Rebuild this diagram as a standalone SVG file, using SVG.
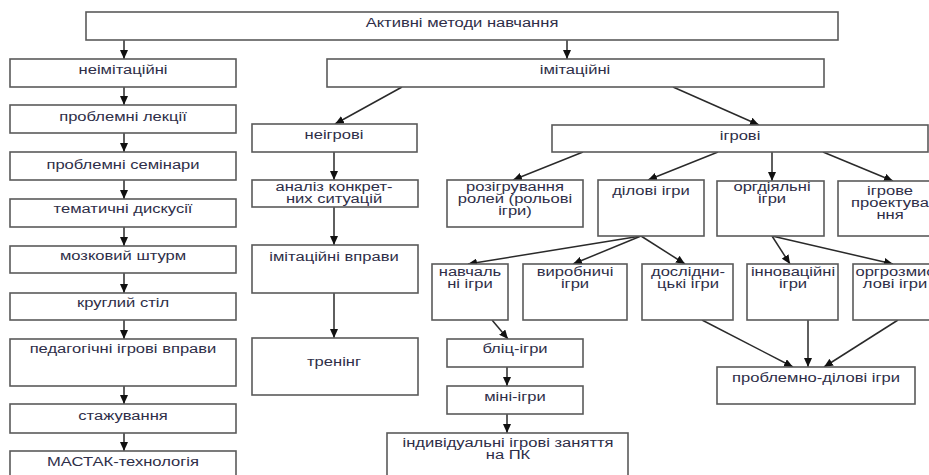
<svg xmlns="http://www.w3.org/2000/svg" width="929" height="475" viewBox="0 0 929 475">
<style>
.box{fill:#fff;stroke:#5a5a5a;stroke-width:1.6}
.t{font-family:"Liberation Sans",Arial,sans-serif;font-size:12px;fill:#2e2e48;text-anchor:middle}
.c line{stroke:#2a2a2a;stroke-width:1.5;marker-end:url(#ah)}
</style>
<defs>
<marker id="ah" markerUnits="userSpaceOnUse" markerWidth="9" markerHeight="8" refX="9" refY="4" orient="auto">
<path d="M0,0 L9,4 L0,8 z" fill="#111"/>
</marker>
</defs>
<rect width="929" height="475" fill="#fff"/>
<g class="c" id="connectors">
<line x1="124" y1="40" x2="124" y2="59"/>
<line x1="124" y1="87" x2="124" y2="105"/>
<line x1="124" y1="133" x2="124" y2="152"/>
<line x1="124" y1="180" x2="124" y2="199"/>
<line x1="124" y1="227" x2="124" y2="246"/>
<line x1="124" y1="273" x2="124" y2="293"/>
<line x1="124" y1="320" x2="124" y2="339"/>
<line x1="124" y1="386" x2="124" y2="404"/>
<line x1="124" y1="433" x2="124" y2="451"/>
<line x1="567" y1="40" x2="567" y2="59"/>
<line x1="402" y1="87" x2="335" y2="124"/>
<line x1="673" y1="87" x2="759" y2="125"/>
<line x1="334" y1="152" x2="334" y2="180"/>
<line x1="334" y1="207" x2="334" y2="245"/>
<line x1="334" y1="293" x2="334" y2="338"/>
<line x1="583" y1="152" x2="513" y2="180"/>
<line x1="718" y1="152" x2="648" y2="180"/>
<line x1="772" y1="152" x2="772" y2="181"/>
<line x1="823" y1="152" x2="893" y2="181"/>
<line x1="641" y1="236" x2="468" y2="264"/>
<line x1="641" y1="236" x2="573" y2="264"/>
<line x1="641" y1="236" x2="685" y2="264"/>
<line x1="772" y1="236" x2="790" y2="264"/>
<line x1="772" y1="236" x2="893" y2="264"/>
<line x1="492" y1="320" x2="508" y2="339"/>
<line x1="507" y1="367" x2="507" y2="386"/>
<line x1="507" y1="414" x2="507" y2="433"/>
<line x1="702" y1="320" x2="793" y2="367"/>
<line x1="808" y1="320" x2="808" y2="367"/>
<line x1="898" y1="320" x2="824" y2="367"/>
</g>
<g id="n-top"><rect class="box" x="86" y="12" width="752" height="28"/><text class="t" transform="translate(462,27) scale(1.38,1)">Активні методи навчання</text></g>
<g id="n-neimit"><rect class="box" x="10" y="59" width="226" height="28"/><text class="t" transform="translate(123,74) scale(1.38,1)">неімітаційні</text></g>
<g id="n-lektsii"><rect class="box" x="10" y="105" width="226" height="28"/><text class="t" transform="translate(123,121) scale(1.38,1)">проблемні лекції</text></g>
<g id="n-seminary"><rect class="box" x="10" y="152" width="226" height="28"/><text class="t" transform="translate(123,169) scale(1.38,1)">проблемні семінари</text></g>
<g id="n-dyskusii"><rect class="box" x="10" y="199" width="226" height="28"/><text class="t" transform="translate(123,213) scale(1.38,1)">тематичні дискусії</text></g>
<g id="n-shturm"><rect class="box" x="10" y="246" width="226" height="27"/><text class="t" transform="translate(123,260) scale(1.38,1)">мозковий штурм</text></g>
<g id="n-stil"><rect class="box" x="10" y="293" width="226" height="27"/><text class="t" transform="translate(123,307) scale(1.38,1)">круглий стіл</text></g>
<g id="n-pedahoh"><rect class="box" x="10" y="339" width="226" height="47"/><text class="t" transform="translate(123,353) scale(1.38,1)">педагогічні ігрові вправи</text></g>
<g id="n-stazh"><rect class="box" x="10" y="404" width="226" height="29"/><text class="t" transform="translate(123,420) scale(1.38,1)">стажування</text></g>
<g id="n-mastak"><rect class="box" x="10" y="451" width="226" height="32"/><text class="t" transform="translate(123,466) scale(1.38,1)">МАСТАК-технологія</text></g>
<g id="n-imit"><rect class="box" x="327" y="59" width="497" height="28"/><text class="t" transform="translate(575,74) scale(1.38,1)">імітаційні</text></g>
<g id="n-neihrovi"><rect class="box" x="252" y="124" width="165" height="28"/><text class="t" transform="translate(334,139) scale(1.38,1)">неігрові</text></g>
<g id="n-analiz"><rect class="box" x="252" y="180" width="166" height="27"/><text class="t" transform="translate(334,191) scale(1.38,1)"><tspan x="0" y="0">аналіз конкрет-</tspan><tspan x="0" y="12">них ситуацій</tspan></text></g>
<g id="n-vpravy"><rect class="box" x="252" y="245" width="166" height="48"/><text class="t" transform="translate(334,261) scale(1.38,1)">імітаційні вправи</text></g>
<g id="n-trening"><rect class="box" x="252" y="338" width="166" height="57"/><text class="t" transform="translate(334,366) scale(1.38,1)">тренінг</text></g>
<g id="n-ihrovi"><rect class="box" x="552" y="125" width="376" height="27"/><text class="t" transform="translate(740,140) scale(1.38,1)">ігрові</text></g>
<g id="n-rozihr"><rect class="box" x="447" y="180" width="136" height="47"/><text class="t" transform="translate(515,191) scale(1.38,1)"><tspan x="0" y="0">розігрування</tspan><tspan x="0" y="12">ролей (рольові</tspan><tspan x="0" y="24">ігри)</tspan></text></g>
<g id="n-dilovi"><rect class="box" x="598" y="180" width="106" height="56"/><text class="t" transform="translate(651,195) scale(1.38,1)">ділові ігри</text></g>
<g id="n-orhd"><rect class="box" x="717" y="181" width="107" height="55"/><text class="t" transform="translate(772,191) scale(1.38,1)"><tspan x="0" y="0">оргдіяльні</tspan><tspan x="0" y="12">ігри</tspan></text></g>
<g id="n-proekt"><rect class="box" x="838" y="181" width="100" height="55"/><text class="t" transform="translate(890,195) scale(1.38,1)"><tspan x="0" y="0">ігрове</tspan><tspan x="0" y="12">проектува</tspan><tspan x="0" y="24">ння</tspan></text></g>
<g id="n-navch"><rect class="box" x="432" y="264" width="76" height="56"/><text class="t" transform="translate(470,276) scale(1.38,1)"><tspan x="0" y="0">навчаль</tspan><tspan x="0" y="12">ні ігри</tspan></text></g>
<g id="n-vyrob"><rect class="box" x="523" y="264" width="104" height="56"/><text class="t" transform="translate(575,276) scale(1.38,1)"><tspan x="0" y="0">виробничі</tspan><tspan x="0" y="12">ігри</tspan></text></g>
<g id="n-doslid"><rect class="box" x="642" y="264" width="91" height="56"/><text class="t" transform="translate(688,276) scale(1.38,1)"><tspan x="0" y="0">дослідни-</tspan><tspan x="0" y="12">цькі ігри</tspan></text></g>
<g id="n-innov"><rect class="box" x="747" y="264" width="91" height="56"/><text class="t" transform="translate(793,276) scale(1.38,1)"><tspan x="0" y="0">інноваційні</tspan><tspan x="0" y="12">ігри</tspan></text></g>
<g id="n-orhrozm"><rect class="box" x="853" y="264" width="90" height="56"/><text class="t" transform="translate(895,276) scale(1.38,1)"><tspan x="0" y="0">оргрозмис</tspan><tspan x="0" y="12">лові ігри</tspan></text></g>
<g id="n-blits"><rect class="box" x="447" y="339" width="136" height="28"/><text class="t" transform="translate(515,353) scale(1.38,1)">бліц-ігри</text></g>
<g id="n-mini"><rect class="box" x="447" y="386" width="136" height="28"/><text class="t" transform="translate(515,401) scale(1.38,1)">міні-ігри</text></g>
<g id="n-indyv"><rect class="box" x="387" y="433" width="241" height="50"/><text class="t" transform="translate(508,447) scale(1.38,1)"><tspan x="0" y="0">індивідуальні ігрові заняття</tspan><tspan x="0" y="12">на ПК</tspan></text></g>
<g id="n-probdil"><rect class="box" x="717" y="367" width="198" height="37"/><text class="t" transform="translate(816,382) scale(1.38,1)">проблемно-ділові ігри</text></g>
</svg>
